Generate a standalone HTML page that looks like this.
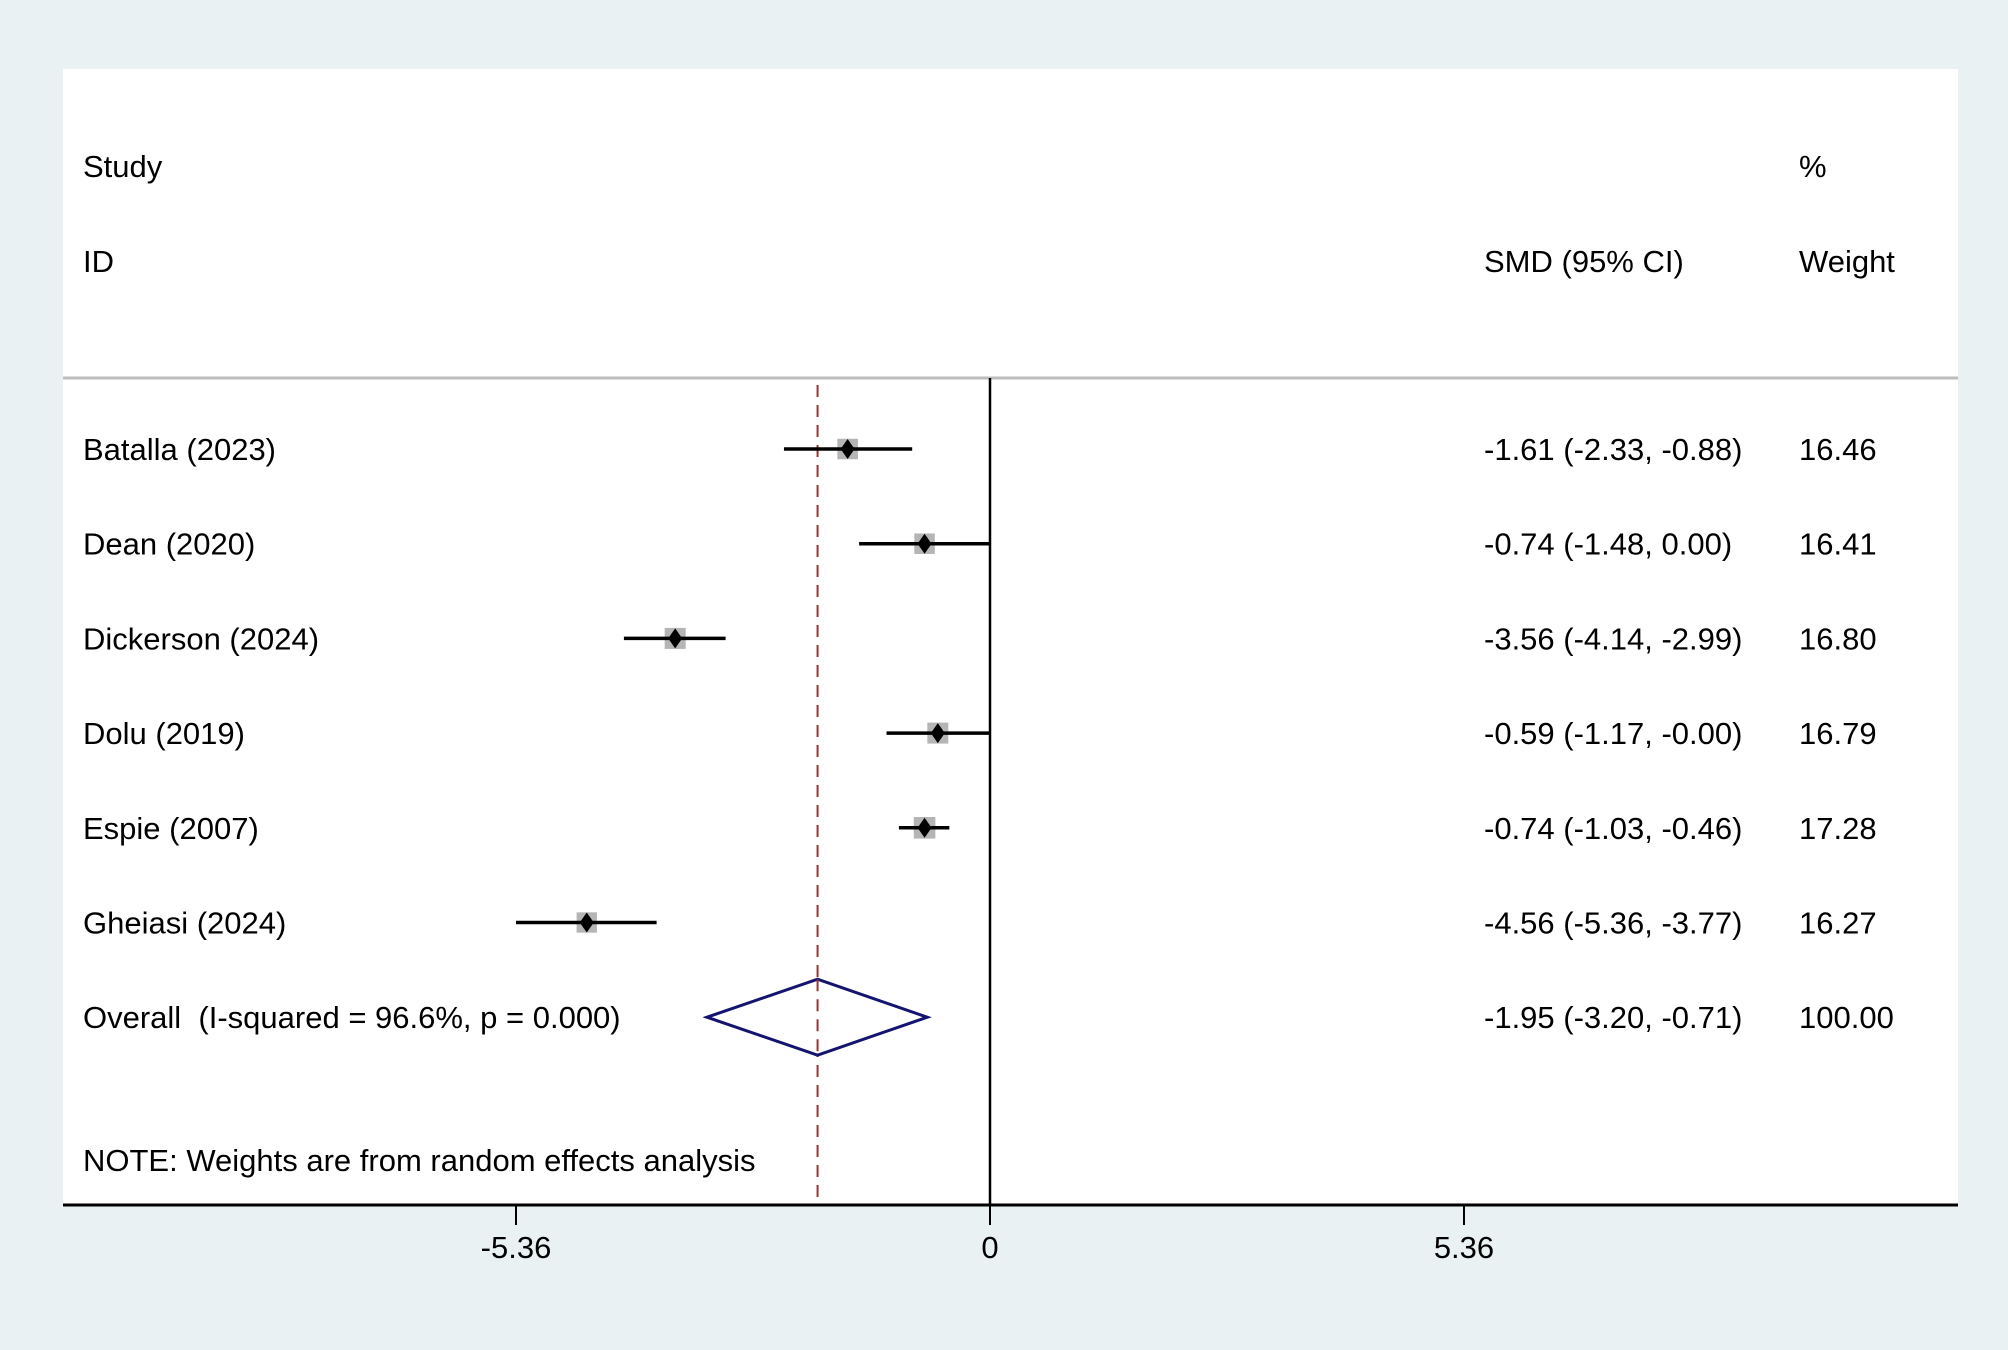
<!DOCTYPE html>
<html><head><meta charset="utf-8"><style>
html,body{margin:0;padding:0;background:#e9f1f2;}
svg{display:block;}
text{font-family:"Liberation Sans",Arial,sans-serif;font-size:31px;fill:#000;}
</style></head><body>
<svg width="2008" height="1350" viewBox="0 0 2008 1350">
<rect x="0" y="0" width="2008" height="1350" fill="#e9f1f2"/>
<rect x="63" y="69" width="1895" height="1136" fill="#fff"/>
<g id="g"></g>
</svg>
<script>
const studies=["Batalla (2023)","Dean (2020)","Dickerson (2024)","Dolu (2019)","Espie (2007)","Gheiasi (2024)"];
const smd=[-1.61,-0.74,-3.56,-0.59,-0.74,-4.56];
const lo=[-2.33,-1.48,-4.14,-1.17,-1.03,-5.36];
const hi=[-0.88,0.00,-2.99,-0.00,-0.46,-3.77];
const ciText=["-1.61 (-2.33, -0.88)","-0.74 (-1.48, 0.00)","-3.56 (-4.14, -2.99)","-0.59 (-1.17, -0.00)","-0.74 (-1.03, -0.46)","-4.56 (-5.36, -3.77)"];
const weights=[16.46,16.41,16.80,16.79,17.28,16.27];
const overall=[-1.95,-3.20,-0.71];
const overallText="-1.95 (-3.20, -0.71)";
const overallWeight="100.00";
const ticks=[-5.36,0,5.36];
const tickLabels=["-5.36","0","5.36"];

const NS="http://www.w3.org/2000/svg";
const g=document.getElementById('g');
function X(v){return 990+v*88.43;}
function Y(i){return 449+i*94.7;}
function mk(tag,attrs,txt){const e=document.createElementNS(NS,tag);for(const k in attrs)e.setAttribute(k,attrs[k]);if(txt!==undefined)e.textContent=txt;g.appendChild(e);return e;}

let e;
e=mk('line',{x1:63,y1:378,x2:1958,y2:378,stroke:'#bdbdbd','stroke-width':3});


e=mk('text',{x:83,y:177},'Study');


e=mk('text',{x:83,y:272},'ID');


e=mk('text',{x:1484,y:272},'SMD (95% CI)');


e=mk('text',{x:1799,y:177},'%');


e=mk('text',{x:1799,y:272},'Weight');



e=mk('line',{x1:X(0),y1:378,x2:X(0),y2:1205,stroke:'#000','stroke-width':2.5});


e=mk('line',{x1:X(overall[0]),y1:385,x2:X(overall[0]),y2:1205,stroke:'#a03030','stroke-width':2,'stroke-dasharray':'12,8'});



studies.forEach((s,i)=>{
  const y=Y(i);
  let t=mk('text',{x:83,y:y+11},s);
  
  
  const sz=weights[i]*1.25;
  let b=mk('rect',{x:X(smd[i])-sz/2,y:y-sz/2,width:sz,height:sz,fill:'#b5b5b5'});
  
  
  let l=mk('line',{x1:X(lo[i]),y1:y,x2:X(hi[i]),y2:y,stroke:'#000','stroke-width':3.5});
  
  
  const cx=X(smd[i]);
  let d=mk('polygon',{points:`${cx},${y-10} ${cx+7},${y} ${cx},${y+10} ${cx-7},${y}`,fill:'#000'});
  
  
  let c=mk('text',{x:1484,y:y+11},ciText[i]);
  
  
  let w=mk('text',{x:1799,y:y+11},weights[i].toFixed(2));
  
  
});

const yo=Y(6);
e=mk('text',{x:83,y:yo+11},'Overall\u00a0 (I-squared = 96.6%, p = 0.000)');


e=mk('polygon',{points:`${X(overall[1])},${yo} ${X(overall[0])},${yo-38} ${X(overall[2])},${yo} ${X(overall[0])},${yo+38}`,fill:'#fff',stroke:'#141470','stroke-width':3});


e=mk('line',{x1:X(overall[0]),y1:yo-38,x2:X(overall[0]),y2:yo+38,stroke:'#a03030','stroke-width':2,'stroke-dasharray':'12,8'});


e=mk('text',{x:1484,y:yo+11},overallText);


e=mk('text',{x:1799,y:yo+11},overallWeight);



e=mk('text',{x:83,y:1171},'NOTE: Weights are from random effects analysis');



e=mk('line',{x1:63,y1:1205,x2:1958,y2:1205,stroke:'#000','stroke-width':3});


ticks.forEach((v,i)=>{
  let t=mk('line',{x1:X(v),y1:1205,x2:X(v),y2:1225,stroke:'#000','stroke-width':2});
  
  
  let l=mk('text',{x:X(v),y:1258,'text-anchor':'middle'},tickLabels[i]);
  
  
});
</script>
</body></html>
